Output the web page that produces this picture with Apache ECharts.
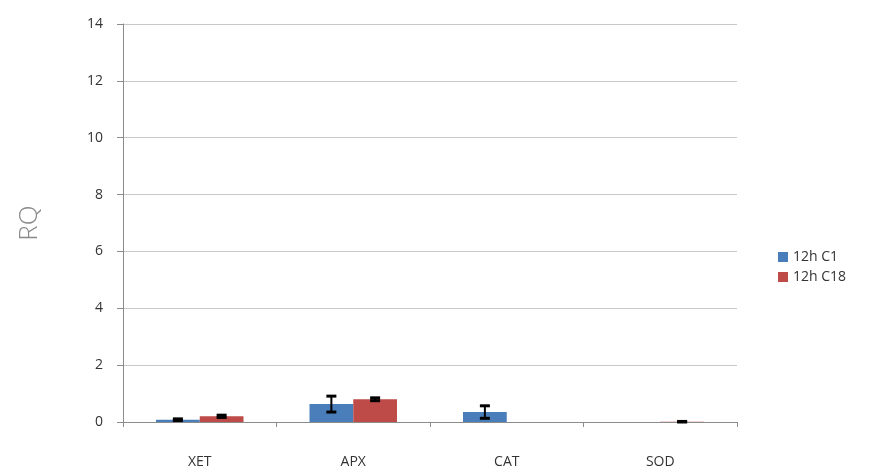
<!DOCTYPE html>
<html>
<head>
<meta charset="utf-8">
<style>
  html, body { margin: 0; padding: 0; background: #fff; }
  #chart { width: 869px; height: 470px; }
</style>
<script src="https://cdn.jsdelivr.net/npm/echarts@6/dist/echarts.min.js"></script>
</head>
<body>
<div id="chart"></div>
<script>
  var categories = ['XET', 'APX', 'CAT', 'SOD']
  var c1Values = [0.08, 0.63, 0.35, 0]
  var c1Errors = [0.03, 0.28, 0.22, 0]
  var c18Values = [0.2, 0.8, 0, 0.01]
  var c18Errors = [0.04, 0.05, 0, 0.01]
  var yTicks = [0, 2, 4, 6, 8, 10, 12, 14]

  var catGap = 0.43

  // error bars as I-beams, shifted to sit on the matching bar
  function errorSeries(values, errors, side) {
    var data = values.map(function (v, i) { return [i, v, errors[i]] })
    return {
      type: 'custom',
      silent: true,
      z: 10,
      data: data,
      renderItem: function (params, api) {
        var err = api.value(2)
        if (!err) return
        var catW = api.size([1, 0])[0]
        var shift = side * catW * (1 - catGap) / 4
        var hi = api.coord([api.value(0), api.value(1) + err])
        var lo = api.coord([api.value(0), Math.max(api.value(1) - err, 0)])
        var x = hi[0] + shift
        var cap = 5
        var st = { stroke: '#000', lineWidth: 3 }
        return {
          type: 'group',
          children: [
            { type: 'line', shape: { x1: x, y1: hi[1], x2: x, y2: lo[1] }, style: { stroke: '#000', lineWidth: 2 } },
            { type: 'line', shape: { x1: x - cap, y1: hi[1], x2: x + cap, y2: hi[1] }, style: st },
            { type: 'line', shape: { x1: x - cap, y1: lo[1], x2: x + cap, y2: lo[1] }, style: st }
          ]
        }
      }
    }
  }

  var chart = echarts.init(document.getElementById('chart'))
  chart.setOption({
    animation: false,
    textStyle: { fontFamily: '"Open Sans", "DejaVu Sans", sans-serif' },
    grid: { left: 123, right: 132, top: 24, bottom: 48 },
    legend: {
      orient: 'vertical',
      left: 773,
      top: 245,
      itemWidth: 10,
      itemHeight: 10,
      itemGap: 6,
      icon: 'rect',
      textStyle: { fontSize: 14, color: '#333' },
      data: ['12h C1', '12h C18']
    },
    xAxis: {
      type: 'category',
      data: categories,
      axisLine: { lineStyle: { color: '#8c8c8c', width: 1 } },
      axisTick: { show: true, length: 5, alignWithLabel: false, lineStyle: { color: '#8c8c8c' } },
      axisLabel: { fontSize: 14, color: '#333', margin: 33 }
    },
    yAxis: {
      type: 'value',
      min: yTicks[0],
      max: yTicks[yTicks.length - 1],
      interval: 2,
      name: 'RQ',
      nameLocation: 'middle',
      nameGap: 80,
      nameTextStyle: { fontSize: 26, color: '#8a8a8a', fontWeight: 'lighter' },
      axisLine: { show: true, lineStyle: { color: '#8c8c8c', width: 1 } },
      axisTick: { show: true, length: 6, lineStyle: { color: '#8c8c8c' } },
      axisLabel: { fontSize: 14, color: '#333', margin: 20 },
      splitLine: { lineStyle: { color: '#c8c8c8', width: 1 } }
    },
    series: [
      {
        name: '12h C1',
        type: 'bar',
        data: c1Values,
        barGap: 0,
        barCategoryGap: (catGap * 100) + '%',
        itemStyle: { color: '#4a7ebb' }
      },
      {
        name: '12h C18',
        type: 'bar',
        data: c18Values,
        barGap: 0,
        barCategoryGap: (catGap * 100) + '%',
        itemStyle: { color: '#be4b48' }
      },
      errorSeries(c1Values, c1Errors, -1),
      errorSeries(c18Values, c18Errors, 1)
    ]
  })
</script>
</body>
</html>
